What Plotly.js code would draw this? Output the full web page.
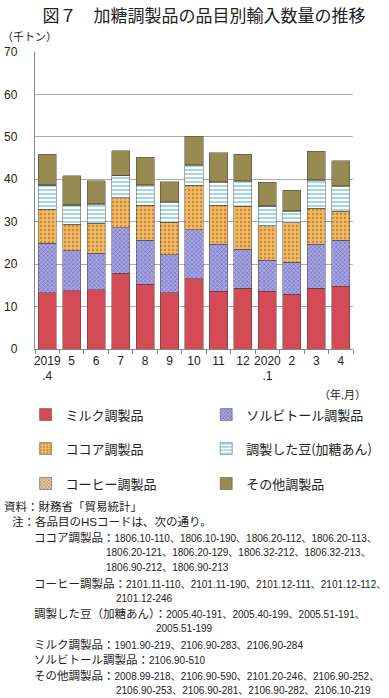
<!DOCTYPE html>
<html>
<head>
<meta charset="utf-8">
<script src="https://cdn.plot.ly/plotly-3.0.1.min.js"></script>
<style>html,body{margin:0;padding:0;background:#fff;}</style>
</head>
<body>
<div id="chart" style="width:389px;height:698px;"></div>
<script>
// ---- data (thousand tonnes) ----
var categories = ["2019.4","2019.5","2019.6","2019.7","2019.8","2019.9","2019.10","2019.11","2019.12","2020.1","2020.2","2020.3","2020.4"];
var tickLabels = ["2019<br>.4","5","6","7","8","9","10","11","12","2020<br>.1","2","3","4"];
var milk     = [13.2, 13.7, 14.0, 17.9, 15.3, 13.2, 16.5, 13.6, 14.3, 13.6, 12.9, 14.3, 14.8];
var sorbitol = [11.7,  9.5,  8.6, 10.7, 10.3,  9.0, 11.6, 11.1,  9.2,  7.3,  7.6, 10.4, 10.8];
var cocoa    = [ 8.0,  6.2,  7.0,  7.1,  8.3,  7.7, 10.5,  9.2, 10.1,  8.1,  9.2,  8.5,  6.9];
var beans    = [ 5.7,  4.5,  4.4,  5.1,  4.6,  4.6,  4.6,  5.3,  5.8,  4.6,  2.7,  6.5,  5.8];
var coffee   = [ 0.2,  0.2,  0.2,  0.2,  0.2,  0.2,  0.2,  0.2,  0.2,  0.2,  0.2,  0.2,  0.2];
var others   = [ 7.1,  6.7,  5.5,  5.7,  6.5,  4.7,  6.7,  6.9,  6.3,  5.5,  4.8,  6.7,  5.9];
var seriesNames = ["ミルク調製品","ソルビトール調製品","ココア調製品","調製した豆(加糖あん)","コーヒー調製品","その他調製品"];
// note lines: [label part, code part]
var noteLabels = [
  "資料：財務省「貿易統計」",
  "注：各品目のHSコードは、次の通り。",
  "ココア調製品：", "", "",
  "コーヒー調製品：", "",
  "調製した豆（加糖あん）：", "",
  "ミルク調製品：",
  "ソルビトール調製品：",
  "その他調製品：", ""
];
var noteCodes = [
  "", "",
  "1806.10-110、1806.10-190、1806.20-112、1806.20-113、",
  "1806.20-121、1806.20-129、1806.32-212、1806.32-213、",
  "1806.90-212、1806.90-213",
  "2101.11-110、2101.11-190、2101.12-111、2101.12-112、",
  "2101.12-246",
  "2005.40-191、2005.40-199、2005.51-191、",
  "2005.51-199",
  "1901.90-219、2106.90-283、2106.90-284",
  "2106.90-510",
  "2008.99-218、2106.90-590、2101.20-246、2106.90-252、",
  "2106.90-253、2106.90-281、2106.90-282、2106.10-219"
];

// ---- styling / layout ----
var JP = "Noto Sans CJK JP, Noto Sans, sans-serif";
var NUM = "Liberation Sans, Arial, Noto Sans CJK JP, sans-serif";
var L = 35, R = 373, T = 52, B = 349.3;
function px2x(p){ return (p - L) / (R - L); }
function py2y(p){ return (B - p) / (B - T); }

var edge = {color: "rgba(60,60,60,0.75)", width: 0.6};
var legendIds = ["legend","legend2","legend3","legend4","legend5","legend6"];
function bar(i, vals, style){
  return {
    type: "bar", x: categories, y: vals, name: seriesNames[i], legend: legendIds[i],
    showlegend: true,
    marker: Object.assign({line: edge}, style),
    hoverinfo: "skip"
  };
}
var data = [
  bar(0, milk,     {color: "#d44b55"}),
  bar(1, sorbitol, {color: "#a3a2dd", pattern: {shape: "x", bgcolor: "#a9a8e2", fgcolor: "#6b69bd", size: 3, solidity: 0.35}}),
  bar(2, cocoa,    {color: "#efb55e", pattern: {shape: ".", bgcolor: "#f1ba66", fgcolor: "#c98a3c", size: 4, solidity: 0.3}}),
  bar(3, beans,    {color: "#eef7fa", pattern: {shape: "-", bgcolor: "#ffffff", fgcolor: "#8fcbe0", size: 4, solidity: 0.4}}),
  bar(4, coffee,   {color: "#dcc098", pattern: {shape: "x", bgcolor: "#e6cba3", fgcolor: "#a88656", size: 3, solidity: 0.35}}),
  bar(5, others,   {color: "#978b51"})
];

function legendAt(pxLeft, pyCenter){
  return {
    orientation: "h", x: px2x(pxLeft), xanchor: "left",
    y: py2y(pyCenter), yanchor: "middle",
    font: {family: JP, size: 13, color: "#222"},
    bgcolor: "rgba(0,0,0,0)", borderwidth: 0, visible: true
  };
}

var annotations = [
  {text: "（千トン）", xref: "paper", yref: "paper", x: px2x(-2), y: py2y(36), xanchor: "left", yanchor: "middle", showarrow: false, font: {family: JP, size: 11, color: "#222"}},
  {text: "（年.月）", xref: "paper", yref: "paper", x: px2x(389), y: py2y(394), xanchor: "right", yanchor: "middle", showarrow: false, font: {family: JP, size: 11, color: "#222"}}
];
var noteX = [0, 8, 32, 108, 108, 32, 119, 32, 162, 32, 32, 32, 119];
var noteY = [507, 522, 538, 553, 568, 584, 599, 614, 629, 645, 660, 676, 691];
noteLabels.forEach(function(t, i){
  var code = noteCodes[i] ? '<span style="font-size:10px">' + noteCodes[i] + '</span>' : "";
  annotations.push({text: t + code, xref: "paper", yref: "paper", x: px2x(noteX[i]), y: py2y(noteY[i]),
    xanchor: "left", yanchor: "middle", showarrow: false,
    font: {family: NUM, size: 11.5, color: "#222"}});
});

var layout = {
  width: 389, height: 698,
  margin: {l: L, r: 389 - R, t: T, b: 698 - B, pad: 0},
  paper_bgcolor: "#fff", plot_bgcolor: "#fff",
  barmode: "stack", bargap: 0.26, showlegend: true,
  title: {text: "図７　加糖調製品の品目別輸入数量の推移", x: 204/389, xanchor: "center", xref: "container",
          y: 1 - 16/698, yanchor: "middle", yref: "container",
          font: {family: JP, size: 17, color: "#222"}},
  xaxis: {type: "category", tickvals: categories, ticktext: tickLabels, tickangle: 0,
          showline: true, linecolor: "#888", linewidth: 1.2,
          ticks: "outside", tickson: "boundaries", ticklen: 4, tickcolor: "#888",
          tickfont: {family: NUM, size: 12, color: "#222"}, fixedrange: true},
  yaxis: {range: [0, 70], dtick: 10, tick0: 0, showgrid: true, gridcolor: "#aaa", gridwidth: 1,
          showline: true, linecolor: "#888", linewidth: 1.2, zeroline: false,
          ticks: "", ticklabelstandoff: 14,
          tickfont: {family: NUM, size: 12, color: "#222"}, fixedrange: true},
  legend:  legendAt(25, 415),
  legend2: legendAt(217, 415),
  legend3: legendAt(25, 449),
  legend4: legendAt(217, 449),
  legend5: legendAt(25, 484),
  legend6: legendAt(217, 484),
  annotations: annotations
};

Plotly.newPlot("chart", data, layout, {displayModeBar: false, staticPlot: true});
</script>
</body>
</html>
